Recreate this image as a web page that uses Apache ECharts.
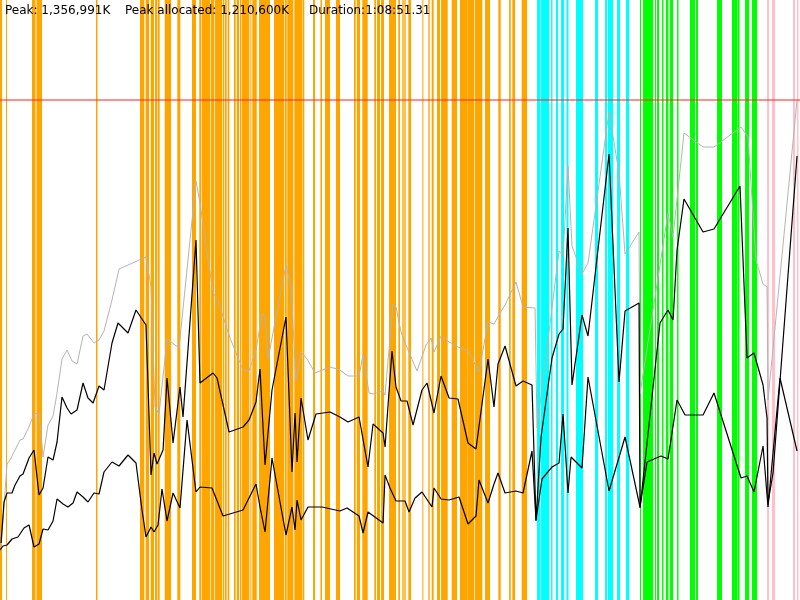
<!DOCTYPE html>
<html>
<head>
<meta charset="utf-8">
<script src="https://cdn.jsdelivr.net/npm/echarts@6/dist/echarts.min.js"></script>
<style>html,body{margin:0;padding:0;background:#fff}#c{width:800px;height:600px}</style>
</head>
<body>
<div id="c"></div>
<script>
// x: elapsed time, % of run duration (1:08:51.31); y: heap, % of peak (1,356,991K)
const titleTexts = ['Peak: 1,356,991K', 'Peak allocated: 1,210,600K', 'Duration:1:08:51.31'];
const peakPct = 100;

// GC event bands [start%, end%]
const orangeBands = [
[0,0.25],[0.75,0.875],[4,4.44],[4.56,5.25],[12,12.19],
[17.5,18.04],[18.21,18.63],[18.84,19.25],[19.38,19.63],[19.71,19.96],[20.59,21.38],[22.16,22.54],[24,24.5],[24.91,25.13],[25.21,26.29],
[26.38,26.79],[26.88,27.79],[27.88,28.04],[28.13,28.34],[28.46,28.66],[29.25,29.46],[29.59,29.88],[30,30.13],[30.21,31.16],[31.29,31.38],
[31.54,32.09],[32.38,33.75],[34.25,35.5],[35.59,35.84],[35.91,36.66],[36.79,37.79],[37.84,38.04],[39.13,39.38],[40.06,40.25],[40.63,41.25],
[42,42.5],[44.25,44.46],[44.59,45],[45.29,45.96],[46.79,47],[47.13,47.5],[47.63,48],[48.63,49.5],[49.79,50],[50.29,50.46],
[50.54,50.71],[51.04,51.38],[52.79,52.91],[53.54,53.71],[53.96,54.21],[54.63,55],[55.13,55.96],[56.46,57.13],[57.5,58.46],[58.46,59.29],
[59.38,60.29],[60.63,61.25],[62.29,62.59],[63.63,63.84],[64.04,64.38],[65.21,65.88]
];
const cyanBands = [
[67.13,67.56],[67.63,68.63],[68.88,69.06],[69.5,69.75],[70.13,70.5],[70.81,71.06],[72,72.88],[74.38,74.75],[75.63,75.88],[76,76.63],
[77.13,77.5],[78.25,78.63]
];
const greenBands = [
[80,80.13],[80.38,81.63],[81.88,82],[82.13,82.38],[82.75,82.94],[83.25,83.56],[83.75,84.13],[84.63,84.81],[86.25,86.88],[87,87.25],
[89.63,90.25],[91.5,92.13],[92.19,92.44],[93.13,93.63],[94,94.63]
];
const pinkBands = [
[95.88,96.13],[96.5,96.88],[99.13,99.38],[99.63,99.81]
];

// heap size (gray)
const heapSize = [
[0.13,10.4],[0.88,27.2],[1.25,28],[1.88,30],[2.5,32],[2.88,32.2],[3.5,34.2],[4.25,37.2],[4.88,37.4],[5.38,28.6],
[6,35],[6.63,36.8],[7.13,41.4],[7.75,48.2],[8.38,50],[9,47.8],[9.63,47.2],[10.38,52.8],[10.88,53.2],[11.75,51.4],
[12.38,52],[13,53.8],[14,60],[14.88,66.2],[18.25,68.6],[18.88,62.6],[19.38,38.6],[19.88,37.2],[20.88,52.2],[22.38,50.4],
[24.5,83.8],[25,79.4],[26.63,61.4],[27.13,60.4],[28.75,52.4],[30.38,46],[31.13,45.8],[32,50],[32.75,57.2],[33.13,57],
[33.5,48.2],[35.75,67],[36.38,62.6],[37,43.8],[37.63,49.6],[38.38,48.2],[39.38,45.4],[41.25,46.6],[42.5,46],[43.5,44.8],
[44.88,44.8],[45.38,49],[46.13,41.4],[46.63,41.2],[47.88,41.8],[48.13,41],[49.13,59.2],[49.5,58.6],[50.13,53.6],[50.63,51.4],
[52.13,45.8],[53.25,51],[53.88,52.4],[54.25,49.6],[55.13,52.8],[56.13,51.6],[57.25,50.6],[58.5,49.8],[59.88,45.6],[61,55.6],
[61.75,55.2],[62.5,57.4],[63.13,59],[64.5,63.6],[65.38,58.6],[66.88,58.4],[67.13,34.4],[69.88,69.8],[70.38,68.8],[71,86.8],
[71.5,70.8],[72.75,65.2],[73.5,67.4],[76.13,97.6],[77.38,85.4],[78.13,69.2],[79.88,73.6],[80,41.2],[83.5,77.4],[84.13,72.6],
[85.5,93.4],[87.88,90.6],[89.25,90.6],[92.63,94.6],[93.5,92.6],[94.5,68],[95.38,63.2],[95.88,62.6],[96,40],[99.63,100]
];
// used before GC (upper black)
const usedBefore = [
[0.13,11.4],[0.5,19.6],[0.88,21.4],[1.5,21.4],[1.88,23],[2.5,24.8],[2.88,25.2],[3.63,28.4],[4.25,30],[4.88,21],
[5.38,22.4],[6,28.6],[6.63,28],[7.13,31.6],[7.75,40.6],[8.38,38.4],[8.88,37.2],[9.63,38],[10.38,43.4],[11,40.4],
[11.63,39.4],[12.38,42.8],[13,42],[14,51.4],[14.75,55.4],[16,53.4],[17,58],[18.25,55],[18.88,25],[19.25,29.4],
[19.63,27.2],[19.88,27.6],[20.38,30],[20.88,44.4],[21.63,31.4],[22.5,42.6],[22.88,36.6],[24.5,72],[25,43.4],[26.63,45.4],
[27.13,44.4],[28.63,33.6],[30.38,34.6],[31.13,36],[32,39.6],[32.5,46.2],[33.13,27],[34,42],[35.75,56.6],[36.5,25.6],
[36.88,37.4],[37.13,27.6],[37.63,40.4],[38.5,32],[39.5,37.2],[41.25,37.6],[42.5,36.6],[43.5,35.6],[44.88,36.6],[46,26.6],
[46.63,35.2],[47.88,33.4],[48.13,30.6],[49,49.8],[49.5,42.6],[50.13,39.8],[50.88,39.8],[51.63,35],[52.75,42],[53.38,43.4],
[54.25,37.4],[55.13,44.8],[56.13,40.4],[57.25,40.2],[58.5,31.4],[59.5,30.2],[61,48.2],[61.75,38.6],[62.25,47.2],[63.13,50.8],
[64.5,42.8],[65.38,43.8],[66.5,43],[67,15.8],[67.63,32.6],[69,48.4],[69.88,53.2],[70.38,54.2],[71,74.4],[71.5,43],
[72.75,57],[73.5,52.8],[76.13,89.2],[77.38,43.6],[78.13,57.8],[79.88,59.4],[80,18.4],[82.5,55.4],[83.5,58],[84.13,56],
[84.63,70],[85.5,80.2],[87.88,73.6],[89.25,74.2],[92.5,82.8],[93.38,48.4],[94.25,49.4],[95.38,43],[95.88,36.4],[96,19.4],
[96.63,25.4],[99.63,88.8]
];
// used after GC (lower black)
const usedAfter = [
[0,10],[0.38,10.8],[0.88,11],[1.5,12.2],[2.25,12.6],[3,14.4],[3.63,15],[4.25,10.6],[4.88,11.2],[5.38,14.2],
[6,14],[6.63,15.8],[7.13,20.2],[7.88,19.2],[8.5,18.6],[9.13,19.4],[9.63,21.6],[10.38,20.6],[11,19.6],[11.75,21.4],
[12.38,21.2],[13,25.6],[14,27.6],[14.88,26.8],[16,29],[17,27.4],[17.75,18],[18.25,12.6],[18.88,14.6],[19.25,13.6],
[19.75,15],[20.25,22.2],[20.88,15.8],[21.63,21.4],[22.5,18.4],[23.38,36],[24.5,21.6],[25,22.6],[26.5,22.4],[27.88,16.8],
[30.38,18],[32,23.2],[32.5,18.6],[33.13,13.6],[34,28.4],[35.75,13],[36.5,18.6],[36.88,14],[37.13,20],[37.63,16],
[38.5,18.6],[40.25,18.6],[42.5,17.8],[43.38,18.4],[44.88,16.8],[45.38,13.4],[46,17.6],[47.88,15.4],[48.13,25],[48.75,22.4],
[49.5,19.8],[50.63,19.8],[51.13,17.6],[51.88,20.4],[52.75,21.6],[54,18.6],[54.25,22.4],[55.13,20.2],[56.13,20],[57.38,20.6],
[58.5,15.2],[59.5,16.8],[59.88,24],[61,19.4],[61.75,23.2],[62.25,25.4],[63.13,21.4],[64.5,21.8],[65.38,21.4],[66.5,29.8],
[67,16],[67.75,24.2],[69,26.6],[69.88,27.4],[70.38,37.2],[71,21.4],[71.38,28.6],[72.75,26.4],[73.5,44.6],[76.13,21.8],
[78.13,32.6],[80,18.6],[80.88,27.6],[82.63,28.8],[83.5,28.2],[84.63,40],[85.63,37],[87.88,37],[89.25,41.4],[92.63,24.4],
[93.38,24.8],[94.25,21.6],[95.38,30.8],[96,18.6],[97.5,44.4],[99.63,29.8]
];

function bandSeries(data, color) {
  return {
    type: 'custom', data: data, z: 1, silent: true,
    encode: { x: [0, 1] },
    renderItem: function (params, api) {
      const a = api.coord([api.value(0), 120]);
      const b = api.coord([api.value(1), 0]);
      return { type: 'rect', shape: { x: a[0], y: a[1], width: Math.max(b[0] - a[0], 1), height: b[1] - a[1] },
               style: { fill: color } };
    }
  };
}

const titleLefts = [5, 125, 309];
const chart = echarts.init(document.getElementById('c'), null, { renderer: 'canvas' });
chart.setOption({
  animation: false,
  backgroundColor: '#fff',
  title: titleTexts.map(function (t, i) {
    return { text: t, left: titleLefts[i], top: 5, padding: 0,
             textStyle: { fontFamily: 'DejaVu Sans', fontSize: 12, fontWeight: 'normal', color: '#000' } };
  }),
  grid: { left: 0, right: 0, top: 0, bottom: 0 },
  xAxis: { type: 'value', min: 0, max: 100, show: false },
  yAxis: { type: 'value', min: 0, max: 120, show: false },
  series: [
    bandSeries(orangeBands, '#ffa500'),
    bandSeries(cyanBands, '#00ffff'),
    bandSeries(greenBands, '#00ff00'),
    bandSeries(pinkBands, '#ffc0cb'),
    { type: 'line', data: heapSize, showSymbol: false, z: 3, silent: true,
      lineStyle: { color: '#b4b4b4', width: 1 },
      markLine: { silent: true, symbol: 'none', label: { show: false },
        lineStyle: { color: 'rgba(255,40,40,0.7)', width: 1.5, type: 'solid' },
        data: [{ yAxis: peakPct }] } },
    { type: 'line', data: usedBefore, showSymbol: false, z: 4, silent: true,
      lineStyle: { color: '#000', width: 1.2 } },
    { type: 'line', data: usedAfter, showSymbol: false, z: 4, silent: true,
      lineStyle: { color: '#000', width: 1.2 } }
  ]
});
</script>
</body>
</html>
